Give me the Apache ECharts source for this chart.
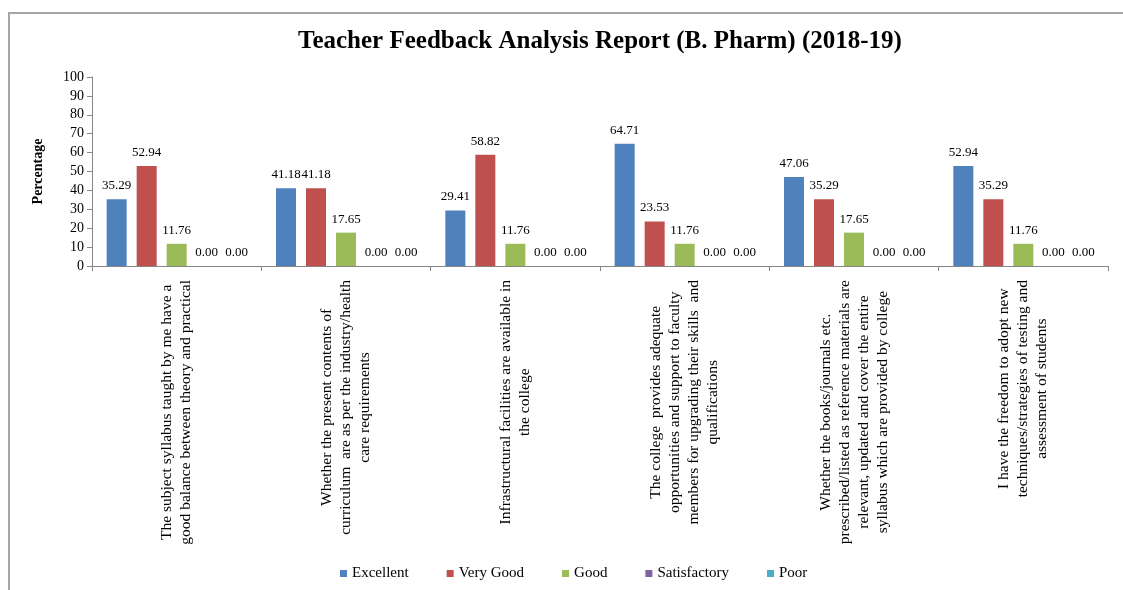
<!DOCTYPE html>
<html>
<head>
<meta charset="utf-8">
<script src="https://cdn.jsdelivr.net/npm/echarts@6/dist/echarts.min.js"></script>
<style>
html,body{margin:0;padding:0;background:#fff;}
#frame{position:absolute;left:8px;top:12px;width:1115px;height:578px;border-top:2px solid #a6a6a6;border-left:2px solid #a6a6a6;}
#main{position:absolute;left:0;top:0;width:1123px;height:590px;}
</style>
</head>
<body>
<div id="frame"></div>
<div id="main"></div>
<script>
var questions = [
  "The subject syllabus taught by me have a\ngood balance between theory and practical",
  "Whether the present contents of\ncurriculum  are as per the industry/health\ncare requirements",
  "Infrastructural facilities are available in\nthe college",
  "The college  provides adequate\nopportunities and support to faculty\nmembers for upgrading their skills  and\nqualifications",
  "Whether the books/journals etc.\nprescribed/listed as reference materials are\nrelevant, updated and cover the entire\nsyllabus which are provided by college",
  "I have the freedom to adopt new\ntechniques/strategies of testing and\nassessment of students"
];
var seriesNames = ["Excellent", "Very Good", "Good", "Satisfactory", "Poor"];
var excellent = [35.29, 41.18, 29.41, 64.71, 47.06, 52.94];
var veryGood = [52.94, 41.18, 58.82, 23.53, 35.29, 35.29];
var good = [11.76, 17.65, 11.76, 11.76, 17.65, 11.76];
var satisfactory = [0, 0, 0, 0, 0, 0];
var poor = [0, 0, 0, 0, 0, 0];
var colors = ["#4F81BD", "#C0504D", "#9BBB59", "#8064A2", "#4BACC6"];

var font = "Liberation Serif";
var allData = [excellent, veryGood, good, satisfactory, poor];

var series = allData.map(function(d, i){
  return {
    name: seriesNames[i],
    type: 'bar',
    data: d,
    barWidth: 20,
    barGap: '50%',
    itemStyle: {color: colors[i]},
    label: {
      show: true,
      position: 'top',
      distance: 7,
      fontFamily: font,
      fontSize: 13,
      color: '#000',
      formatter: function(p){ return p.value.toFixed(2); }
    }
  };
});

var myChart = echarts.init(document.getElementById('main'));
var option = {
  animation: false,
  color: colors,
  title: {
    text: 'Teacher Feedback Analysis Report (B. Pharm) (2018-19)',
    left: 293,
    top: 24,
    textStyle: {fontFamily: font, fontWeight: 'bold', fontSize: 25, color: '#000'}
  },
  legend: {
    bottom: 4,
    left: 335,
    itemWidth: 7,
    itemHeight: 7,
    itemGap: 38,
    icon: 'rect',
    textStyle: {fontFamily: font, fontSize: 15, color: '#000'},
    data: seriesNames
  },
  grid: {left: 92, right: 15, top: 77, bottom: 324},
  xAxis: {
    type: 'category',
    data: questions,
    axisLine: {lineStyle: {color: '#868686'}},
    axisTick: {show: true, length: 5, lineStyle: {color: '#868686'}},
    axisLabel: {
      rotate: 90,
      interval: 0,
      margin: 14,
      formatter: function(v){
        return v.split('\n').map(function(s){ return '{c|' + s + '}'; }).join('\n');
      },
      rich: {
        c: {align: 'center', fontFamily: font, fontSize: 15.5, lineHeight: 19, color: '#000'}
      }
    }
  },
  yAxis: {
    type: 'value',
    min: 0,
    max: 100,
    interval: 10,
    name: 'Percentage',
    nameLocation: 'middle',
    nameRotate: 90,
    nameGap: 47,
    nameTextStyle: {fontFamily: font, fontWeight: 'bold', fontSize: 14, color: '#000'},
    axisLine: {show: true, lineStyle: {color: '#868686'}},
    axisTick: {show: true, length: 5, lineStyle: {color: '#868686'}},
    splitLine: {show: false},
    axisLabel: {fontFamily: font, fontSize: 14, color: '#000', margin: 8}
  },
  series: series
};
myChart.setOption(option);
</script>
</body>
</html>
